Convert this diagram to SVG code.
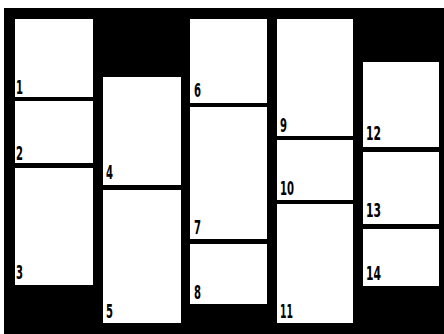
<svg xmlns="http://www.w3.org/2000/svg" width="444" height="334" viewBox="0 0 444 334">
<style>
.cell{fill:#fff}
.lbl{font-family:"DejaVu Sans Condensed","DejaVu Sans",sans-serif;font-weight:bold;font-size:20px;fill:#000}
</style>
<rect x="0" y="0" width="444" height="334" fill="#fff"/>
<rect id="frame" x="4" y="8" width="440" height="326" fill="#000"/>
<g id="n1"><rect class="cell" x="15" y="19" width="78" height="78"/><text class="lbl" x="16" y="94" textLength="7" lengthAdjust="spacingAndGlyphs">1</text></g>
<g id="n2"><rect class="cell" x="15" y="101" width="78" height="62"/><text class="lbl" x="16" y="160" textLength="7" lengthAdjust="spacingAndGlyphs">2</text></g>
<g id="n3"><rect class="cell" x="15" y="168" width="78" height="117"/><text class="lbl" x="16" y="279" textLength="7" lengthAdjust="spacingAndGlyphs">3</text></g>
<g id="n4"><rect class="cell" x="103" y="77" width="78" height="108"/><text class="lbl" x="106" y="179" textLength="7" lengthAdjust="spacingAndGlyphs">4</text></g>
<g id="n5"><rect class="cell" x="103" y="190" width="78" height="133"/><text class="lbl" x="106" y="318" textLength="7" lengthAdjust="spacingAndGlyphs">5</text></g>
<g id="n6"><rect class="cell" x="190" y="19" width="77" height="84"/><text class="lbl" x="194" y="97" textLength="7" lengthAdjust="spacingAndGlyphs">6</text></g>
<g id="n7"><rect class="cell" x="190" y="107" width="77" height="132"/><text class="lbl" x="194" y="234" textLength="7" lengthAdjust="spacingAndGlyphs">7</text></g>
<g id="n8"><rect class="cell" x="190" y="244" width="77" height="60"/><text class="lbl" x="194" y="299" textLength="7" lengthAdjust="spacingAndGlyphs">8</text></g>
<g id="n9"><rect class="cell" x="277" y="19" width="76" height="117"/><text class="lbl" x="280" y="132" textLength="7" lengthAdjust="spacingAndGlyphs">9</text></g>
<g id="n10"><rect class="cell" x="277" y="140" width="76" height="60"/><text class="lbl" x="280" y="195" textLength="14" lengthAdjust="spacingAndGlyphs">10</text></g>
<g id="n11"><rect class="cell" x="277" y="204" width="76" height="119"/><text class="lbl" x="280" y="318" textLength="13" lengthAdjust="spacingAndGlyphs">11</text></g>
<g id="n12"><rect class="cell" x="363" y="62" width="76" height="85"/><text class="lbl" x="366" y="140" textLength="15" lengthAdjust="spacingAndGlyphs">12</text></g>
<g id="n13"><rect class="cell" x="363" y="152" width="76" height="72"/><text class="lbl" x="366" y="217" textLength="15" lengthAdjust="spacingAndGlyphs">13</text></g>
<g id="n14"><rect class="cell" x="363" y="229" width="76" height="57"/><text class="lbl" x="366" y="280" textLength="15" lengthAdjust="spacingAndGlyphs">14</text></g>
</svg>
